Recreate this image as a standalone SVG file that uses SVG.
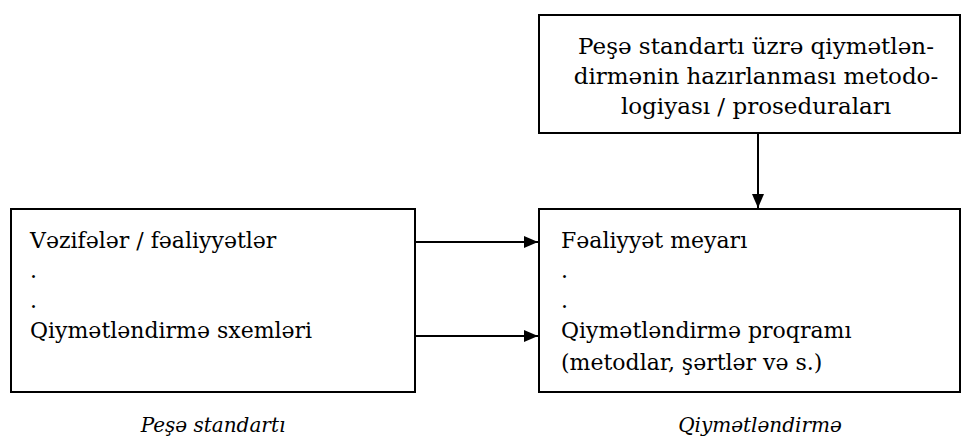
<svg xmlns="http://www.w3.org/2000/svg" width="963" height="441" viewBox="0 0 963 441">
<defs>
<style>
.box{fill:#fff;stroke:#000;stroke-width:2}
.t{font-family:"DejaVu Serif","Liberation Serif",serif;font-size:22px;fill:#000}
.h{font-size:23px}
.c{text-anchor:middle}
.i{font-style:italic;font-size:20px}
.ln{stroke:#000;stroke-width:2;fill:none}
</style>
<marker id="ah" viewBox="0 0 14 12" refX="14" refY="6" markerWidth="14" markerHeight="12" markerUnits="userSpaceOnUse" orient="auto">
<path d="M0,0 L14,6 L0,12 z" fill="#000"/>
</marker>
</defs>
<rect width="963" height="441" fill="#fff"/>
<g id="connectors">
<line class="ln" x1="758" y1="133" x2="758" y2="208" marker-end="url(#ah)"/>
<line class="ln" x1="415" y1="242" x2="538" y2="242" marker-end="url(#ah)"/>
<line class="ln" x1="415" y1="336" x2="538" y2="336" marker-end="url(#ah)"/>
</g>
<g id="method">
<rect class="box" x="539" y="15" width="421" height="118"/>
<text class="t h c" x="756" y="54">Peşə standartı üzrə qiymətlən-</text>
<text class="t h c" x="756" y="84">dirmənin hazırlanması metodo-</text>
<text class="t h c" x="756" y="114">logiyası / proseduraları</text>
</g>
<g id="standard">
<rect class="box" x="11" y="209" width="404" height="183"/>
<text class="t" x="30" y="248">Vəzifələr / fəaliyyətlər</text>
<text class="t" x="30" y="278">.</text>
<text class="t" x="30" y="308">.</text>
<text class="t" x="30" y="338">Qiymətləndirmə sxemləri</text>
</g>
<g id="assessment">
<rect class="box" x="539" y="209" width="421" height="183"/>
<text class="t" x="561" y="248">Fəaliyyət meyarı</text>
<text class="t" x="561" y="278">.</text>
<text class="t" x="561" y="308">.</text>
<text class="t" x="561" y="338">Qiymətləndirmə proqramı</text>
<text class="t" x="561" y="370">(metodlar, şərtlər və s.)</text>
</g>
<g id="captions">
<text class="t c i" x="213" y="432">Peşə standartı</text>
<text class="t c i" x="760" y="432">Qiymətləndirmə</text>
</g>
</svg>
